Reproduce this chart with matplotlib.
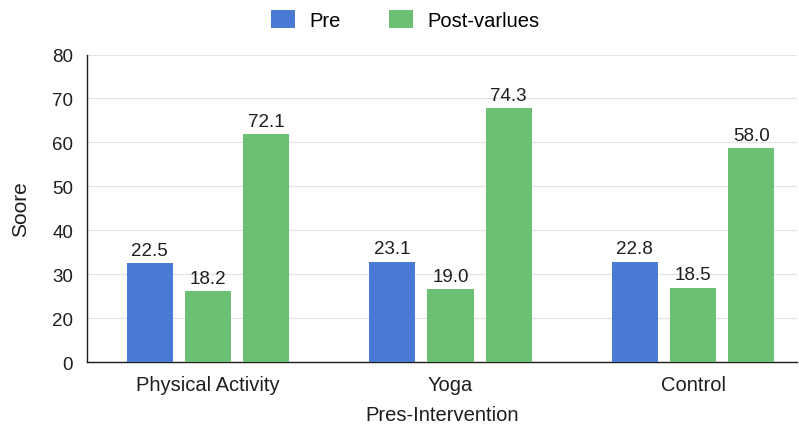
import matplotlib.pyplot as plt
import numpy as np

plt.rcParams['font.family'] = ['Liberation Sans', 'DejaVu Sans']

# Datos
grupos = ['Physical Activity', 'Yoga', 'Control']
pre = [22.5, 22.9, 22.9]
post_a = [16.3, 16.7, 17.0]
post_b = [51.9, 57.8, 48.8]
etiquetas_pre = ['22.5', '23.1', '22.8']
etiquetas_post_a = ['18.2', '19.0', '18.5']
etiquetas_post_b = ['72.1', '74.3', '58.0']
ticks_y = [0, 10, 20, 30, 40, 50, 60, 70]
ticks_y_texto = ['0', '20', '30', '40', '50', '60', '70', '80']

azul = '#4a7bd4'
verde = '#6dbf74'
negro = '#1e1e1e'

x = np.arange(len(grupos))
ancho = 0.19
sep = 0.24

fig = plt.figure(figsize=(7.99, 4.27), dpi=100)
ax = fig.add_axes([0.109, 0.149, 0.889, 0.721])

b1 = ax.bar(x - sep, pre, ancho, color=azul, label='Pre', zorder=3)
b2 = ax.bar(x, post_a, ancho, color=verde, label='Post-varlues', zorder=3)
b3 = ax.bar(x + sep, post_b, ancho, color=verde, zorder=3)

for barras, textos in [(b1, etiquetas_pre), (b2, etiquetas_post_a), (b3, etiquetas_post_b)]:
    for barra, t in zip(barras, textos):
        ax.annotate(t, (barra.get_x() + barra.get_width() / 2, barra.get_height()),
                    xytext=(0, 3), textcoords='offset points', ha='center', va='bottom',
                    fontsize=13.5, color=negro)

ax.set_xlim(-0.498, 2.43)
ax.set_ylim(0, 70)
ax.set_yticks(ticks_y)
ax.set_yticklabels(ticks_y_texto)
ax.set_xticks(x)
ax.set_xticklabels(grupos)
ax.tick_params(axis='both', length=0, colors=negro)
ax.tick_params(axis='x', pad=9, labelsize=14.5)
ax.tick_params(axis='y', pad=10, labelsize=13.5)

ax.grid(axis='y', color='#e3e3e3', linewidth=0.9, zorder=0)
for lado in ['top', 'right']:
    ax.spines[lado].set_visible(False)
for lado in ['left', 'bottom']:
    ax.spines[lado].set_color(negro)
    ax.spines[lado].set_linewidth(1.0)

ax.set_ylabel('Soore', fontsize=15, color=negro, ha='center', va='center')
ax.yaxis.set_label_coords(-0.093, 0.5)
ax.set_xlabel('Pres-Intervention', fontsize=14.5, color=negro, ha='center', va='center')
ax.xaxis.set_label_coords(0.5, -0.17)

fig.legend(handles=[b1, b2], loc='center', bbox_to_anchor=(0.507, 0.951), ncol=2,
           frameon=False, fontsize=14.5, handlelength=1.2, handleheight=1.0,
           columnspacing=2.4, handletextpad=0.7)

fig.savefig('out.png', dpi=100)
